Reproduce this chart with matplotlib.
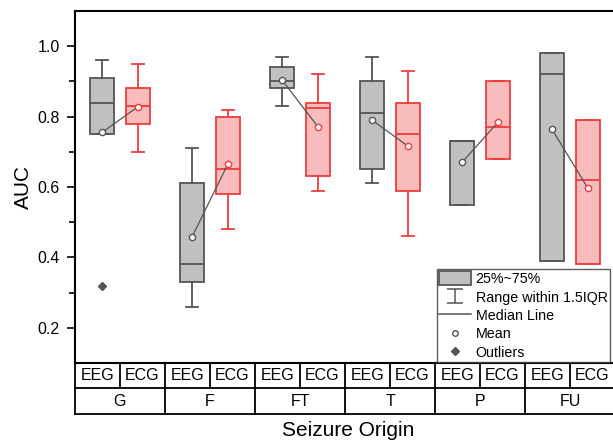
import matplotlib
matplotlib.use("Agg")
import matplotlib.pyplot as plt
from matplotlib.lines import Line2D
from matplotlib.patches import Patch
from matplotlib.path import Path

plt.rcParams["font.family"] = ["Liberation Sans", "DejaVu Sans"]

groups = ["G", "F", "FT", "T", "P", "FU"]
modalities = ["EEG", "ECG"]

# EEG boxes
eeg_lo = [0.75, 0.26, 0.83, 0.61, 0.55, 0.39]
eeg_q1 = [0.75, 0.33, 0.88, 0.65, 0.55, 0.39]
eeg_med = [0.84, 0.382, 0.90, 0.81, 0.73, 0.92]
eeg_q3 = [0.91, 0.61, 0.94, 0.90, 0.73, 0.98]
eeg_hi = [0.96, 0.71, 0.97, 0.97, 0.73, 0.98]
eeg_mean = [0.755, 0.458, 0.904, 0.79, 0.67, 0.764]
eeg_fliers = [[0.32], [], [], [], [], []]

# ECG boxes
ecg_lo = [0.70, 0.48, 0.59, 0.46, 0.68, 0.38]
ecg_q1 = [0.78, 0.58, 0.63, 0.59, 0.68, 0.38]
ecg_med = [0.83, 0.65, 0.824, 0.75, 0.77, 0.62]
ecg_q3 = [0.88, 0.80, 0.84, 0.84, 0.90, 0.79]
ecg_hi = [0.95, 0.82, 0.92, 0.93, 0.90, 0.79]
ecg_mean = [0.828, 0.666, 0.771, 0.716, 0.784, 0.596]
ecg_fliers = [[], [], [], [], [], []]

grey_edge = "#555555"
grey_fill = "#c0c0c0"
red_edge = "#f03c3c"
red_fill = "#f8bcbc"


def make_stats(lo, q1, med, q3, hi, mean, fliers):
    return [dict(whislo=a, q1=b, med=c, q3=d, whishi=e, mean=f, fliers=g)
            for a, b, c, d, e, f, g in zip(lo, q1, med, q3, hi, mean, fliers)]


def draw(ax, stats, pos, edge, fill):
    ax.bxp(stats, positions=pos, widths=0.52, capwidths=0.28,
           patch_artist=True, showmeans=True, showfliers=True,
           boxprops=dict(facecolor=fill, edgecolor=edge, linewidth=1.3),
           medianprops=dict(color=edge, linewidth=1.3),
           whiskerprops=dict(color=edge, linewidth=1.3),
           capprops=dict(color=edge, linewidth=1.3),
           meanprops=dict(marker="o", markerfacecolor="white",
                          markeredgecolor=edge, markersize=4.5,
                          markeredgewidth=1, zorder=5),
           flierprops=dict(marker="D", markerfacecolor="#555555",
                           markeredgecolor="#555555", markersize=4))


fig = plt.figure(figsize=(6.13, 4.42), dpi=100)
ax = fig.add_axes([75 / 613, 79 / 442, 540 / 613, 352 / 442])

centers = [2 * i + 1 for i in range(len(groups))]
eeg_pos = [c - 0.4 for c in centers]
ecg_pos = [c + 0.4 for c in centers]

draw(ax, make_stats(eeg_lo, eeg_q1, eeg_med, eeg_q3, eeg_hi, eeg_mean, eeg_fliers),
     eeg_pos, grey_edge, grey_fill)
draw(ax, make_stats(ecg_lo, ecg_q1, ecg_med, ecg_q3, ecg_hi, ecg_mean, ecg_fliers),
     ecg_pos, red_edge, red_fill)

# mean connectors
for i in range(len(groups)):
    ax.plot([eeg_pos[i], ecg_pos[i]], [eeg_mean[i], ecg_mean[i]],
            color="#555555", lw=0.9, zorder=4)

ax.set_xlim(0, 2 * len(groups))
ax.set_ylim(0.1, 1.1)
ax.set_yticks([0.2, 0.4, 0.6, 0.8, 1.0])
ax.set_yticks([0.3, 0.5, 0.7, 0.9], minor=True)
ax.set_xticks([])
ax.tick_params(axis="y", which="major", length=6, width=1.2, labelsize=11.5, pad=5)
ax.tick_params(axis="y", which="minor", length=4, width=1.2)
for s in ax.spines.values():
    s.set_linewidth(1.5)
ax.set_ylabel("AUC", fontsize=15, labelpad=3)

# category table below the axes
tr = ax.get_xaxis_transform()
r1 = -25 / 352
r2 = -51 / 352
lk = dict(color="black", lw=1.3, transform=tr, clip_on=False)
ax.plot([0, 2 * len(groups)], [r1, r1], **lk)
ax.plot([0, 2 * len(groups)], [r2, r2], **lk)
for k in range(2 * len(groups) + 1):
    ax.plot([k, k], [0, r1 if k % 2 else r2], **lk)
for i, g in enumerate(groups):
    for j, m in enumerate(modalities):
        ax.text(2 * i + j + 0.5, r1 / 2, m, transform=tr, ha="center",
                va="center", fontsize=11.5)
    ax.text(centers[i], (r1 + r2) / 2, g, transform=tr, ha="center",
            va="center", fontsize=11.5)
ax.set_xlabel("Seizure Origin", fontsize=15)
ax.xaxis.set_label_coords(0.505, -0.165)

# legend
ibeam = Path([(-1, 0.8), (1, 0.8), (0, 0.8), (0, -0.8), (-1, -0.8), (1, -0.8)],
             [Path.MOVETO, Path.LINETO, Path.MOVETO, Path.LINETO,
              Path.MOVETO, Path.LINETO])
handles = [
    Patch(facecolor=grey_fill, edgecolor=grey_edge, linewidth=1.3),
    Line2D([], [], marker=ibeam, linestyle="none", color=grey_edge,
           markersize=12, markeredgewidth=1.1),
    Line2D([], [], color=grey_edge, lw=1.1),
    Line2D([], [], marker="o", linestyle="none", markerfacecolor="white",
           markeredgecolor=grey_edge, markersize=4),
    Line2D([], [], marker="D", linestyle="none", color="#555555", markersize=4),
]
labels = ["25%~75%", "Range within 1.5IQR", "Median Line", "Mean", "Outliers"]
leg = fig.legend(handles, labels, loc="lower left",
                 bbox_to_anchor=(437 / 613, 80 / 442), fontsize=10.3,
                 frameon=True, fancybox=False, handlelength=2.25,
                 handleheight=1.1, handletextpad=0.3, labelspacing=0.26,
                 borderpad=0.15, borderaxespad=0)
leg.get_frame().set_edgecolor("#333333")
leg.get_frame().set_linewidth(1.0)

fig.savefig("out.png", dpi=100)
